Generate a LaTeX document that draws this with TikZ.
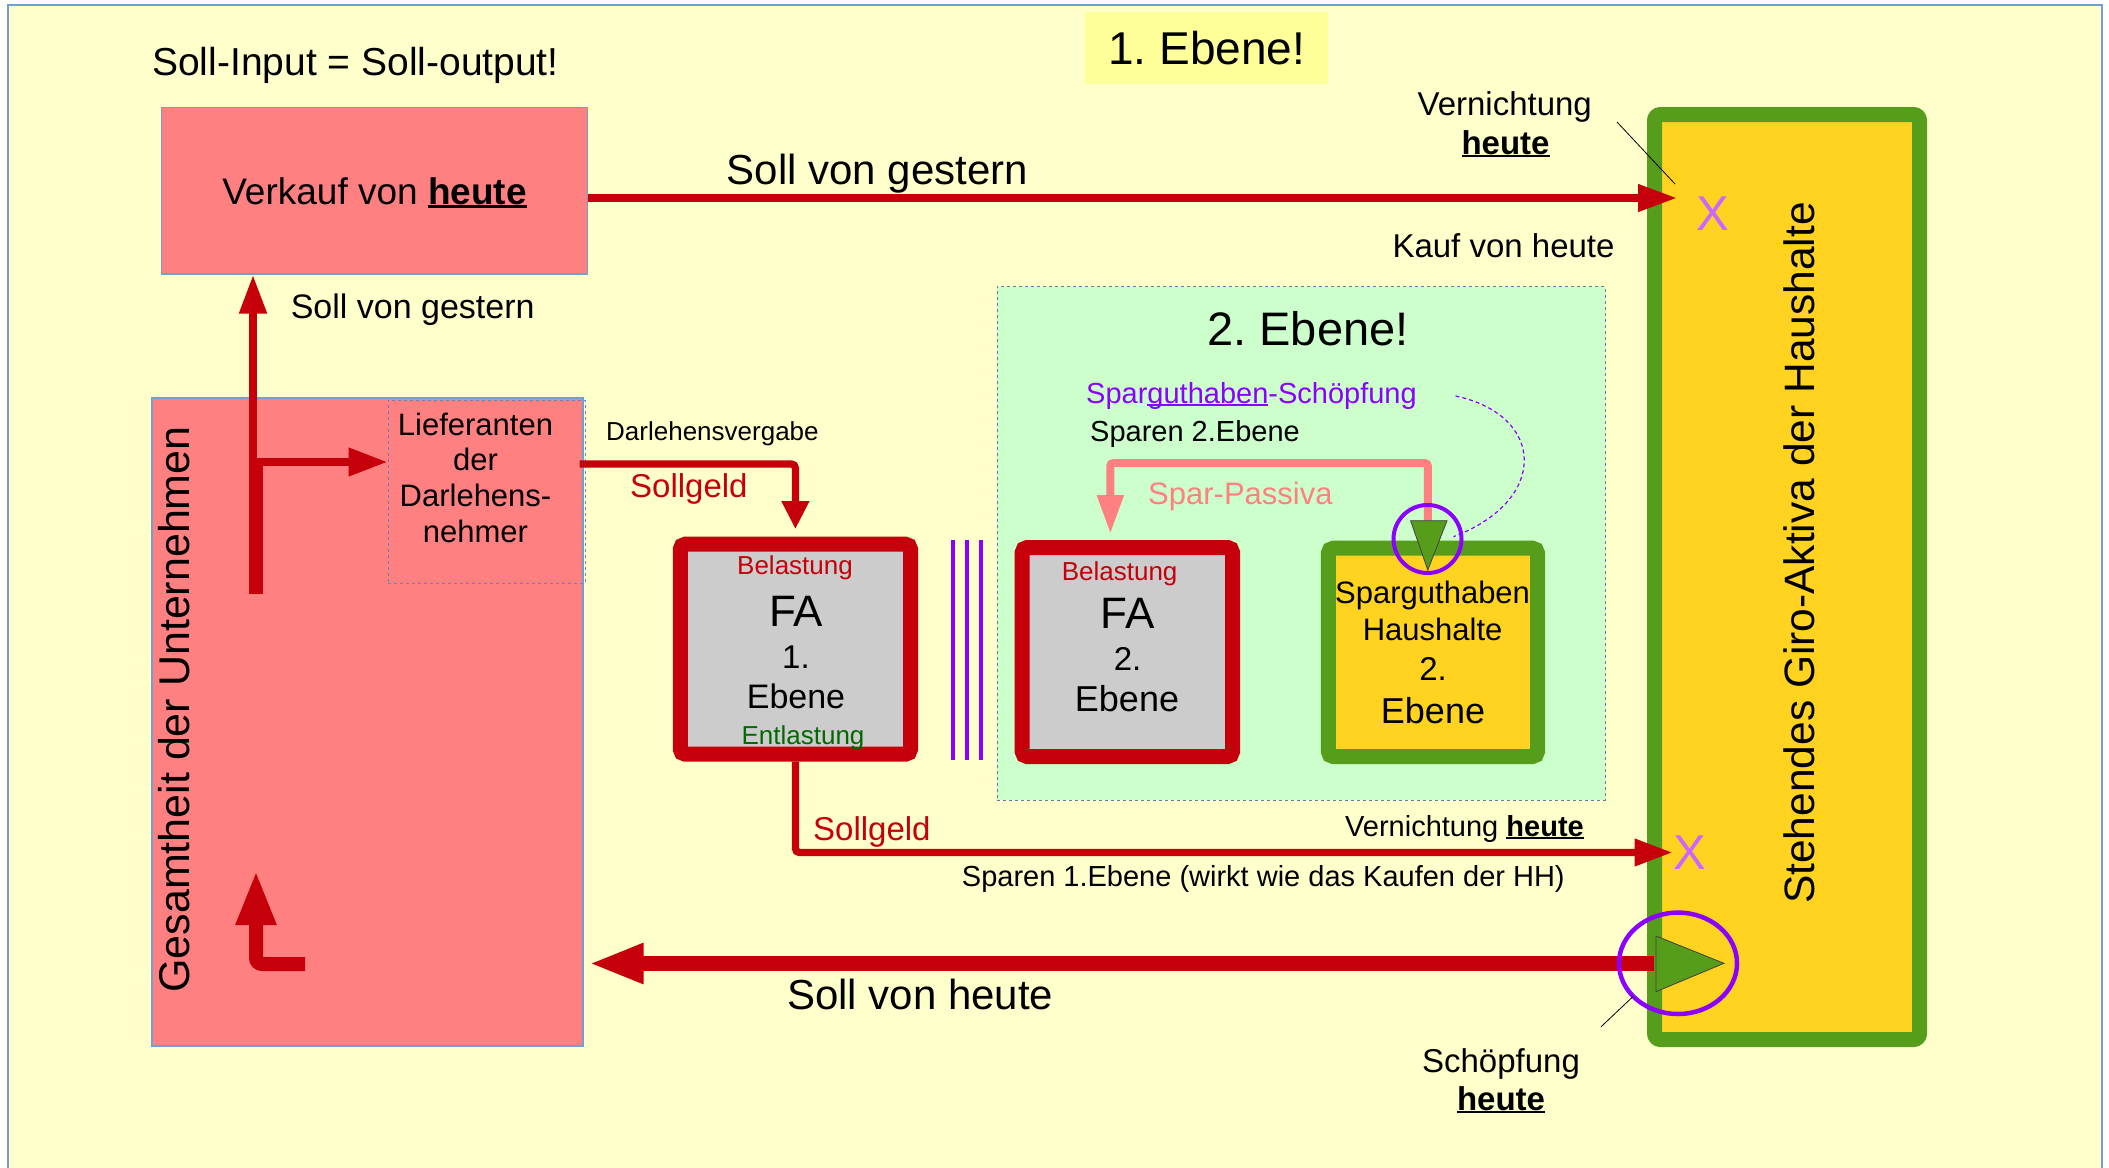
\documentclass[tikz,border=0pt]{standalone}
\usepackage{fontspec}
\setmainfont{Liberation Sans}
\usetikzlibrary{arrows.meta}
\frenchspacing

\definecolor{bgc}{HTML}{FFFFCC}
\definecolor{framec}{HTML}{729FCF}
\definecolor{salmon}{HTML}{FF8080}
\definecolor{dred}{HTML}{C5000B}
\definecolor{grayc}{HTML}{CCCCCC}
\definecolor{grn}{HTML}{579D1C}
\definecolor{gold}{HTML}{FFD320}
\definecolor{mint}{HTML}{CCFFCC}
\definecolor{lemon}{HTML}{FFFF99}
\definecolor{purp}{HTML}{8B00FF}
\definecolor{lilac}{HTML}{CC66FF}
\definecolor{dgreen}{HTML}{006A00}
\definecolor{dashblue}{HTML}{5B86C4}

\newcommand\fs[1]{\fontsize{#1}{#1}\selectfont}
\newsavebox\ulbox
\newcommand\uln[1]{\sbox\ulbox{#1}\rlap{\rule[-0.1em]{\wd\ulbox}{0.065em}}\usebox\ulbox}

\tikzset{
  txt/.style={inner sep=0pt, anchor=base},
  plain/.style={fill=salmon, draw=framec, line width=1.2pt, inner sep=0pt},
  rbox/.style={draw=dred, fill=grayc, line width=15pt, rounded corners=5pt, inner sep=0pt},
  gbox/.style={draw=grn, fill=gold, line width=15pt, rounded corners=5pt, inner sep=0pt},
  flow/.style={draw=dred, line width=7.5pt},
  pinkflow/.style={draw=salmon, line width=8pt},
  tip/.style={-{Triangle[length=39pt,width=26pt]}},
  bigtip/.style={-{Triangle[length=55pt,width=37pt]}},
  ring/.style={draw=purp, line width=4pt},
  marker/.style={fill=grn, draw=black!75, line width=0.8pt},
  pointer/.style={draw=black, line width=0.8pt},
}

\begin{document}
\begin{tikzpicture}[x=1pt,y=-1pt]
\useasboundingbox (0,0) rectangle (2109,1167);

% page frame
\fill[white] (0,0) rectangle (2109,1167);
\draw[framec, line width=2pt, fill=bgc] (8,5) rectangle (2102,1180);

% level labels and main boxes
\node[fill=lemon, minimum width=242.7pt, minimum height=72pt, inner sep=0pt] (lvl1) at (1206.4,48.3) {};
\node[txt, font=\fs{46}] (lvl1t) at (1206.7,64.3) {1. Ebene!};
\node[txt, anchor=base west, font=\fs{39}] (title) at (152,75) {Soll-Input = Soll-output!};

\node[plain, minimum width=426pt, minimum height=166.3pt] (verkauf) at (374.5,190.85) {};
\node[txt, font=\fs{37}] (verkauft) at (374.5,204) {Verkauf von \textbf{\uln{heute}}};

\node[plain, minimum width=431pt, minimum height=648pt] (ges) at (367.5,722) {};
\node[txt, rotate=90, font=\fs{43}] (gest) at (189,709.5) {Gesamtheit der Unternehmen};

\node[draw=dashblue, dashed, line width=1pt, minimum width=197pt, minimum height=183pt, inner sep=0pt] (lief) at (486.5,491.5) {};
\node[txt, font=\fs{31}] (lief1) at (475.5,435) {Lieferanten};
\node[txt, font=\fs{31}] (lief2) at (475.5,470) {der};
\node[txt, font=\fs{31}] (lief3) at (475.5,506.7) {Darlehens-};
\node[txt, font=\fs{31}] (lief4) at (475.5,542) {nehmer};

% second level panel
\node[fill=mint, draw=framec!80!black, dashed, line width=1pt, minimum width=608pt, minimum height=513.3pt, inner sep=0pt] (lvl2) at (1301,543.35) {};
\node[txt, font=\fs{47}] (lvl2t) at (1308,345) {2. Ebene!};
\node[txt, anchor=base west, font=\fs{29}, text=purp] (sgs) at (1086,403) {Spar\uln{guthaben}-Schöpfung};
\node[txt, anchor=base west, font=\fs{29}] (sp2) at (1090,441.7) {Sparen 2.Ebene};

% households
\node[gbox, rounded corners=6pt, minimum width=265pt, minimum height=925pt] (hh) at (1787,577) {};
\node[txt, rotate=90, font=\fs{42.5}] (hht) at (1814,553) {Stehendes Giro-Aktiva der Haushalte};

% FA boxes
\node[rbox, minimum width=230.2pt, minimum height=210pt] (fa1) at (795.4,649.2) {};
\node[txt, font=\fs{26}, text=dred] (fa1a) at (795,574) {Belastung};
\node[txt, font=\fs{44}] (fa1b) at (796,626.7) {FA};
\node[txt, font=\fs{33}] (fa1c) at (796,668) {1.};
\node[txt, font=\fs{34}] (fa1d) at (796,708) {Ebene};
\node[txt, font=\fs{26}, text=dgreen] (fa1e) at (803,744) {Entlastung};

\node[rbox, minimum width=210.3pt, minimum height=209pt] (fa2) at (1127.35,652) {};
\node[txt, font=\fs{26}, text=dred] (fa2a) at (1119.6,580) {Belastung};
\node[txt, font=\fs{44}] (fa2b) at (1127.5,628) {FA};
\node[txt, font=\fs{33}] (fa2c) at (1127.5,670) {2.};
\node[txt, font=\fs{36}] (fa2d) at (1127,711.7) {Ebene};

\node[gbox, minimum width=209.2pt, minimum height=208.3pt] (sph) at (1432.9,652.35) {};
\node[txt, font=\fs{31}] (spha) at (1432.6,603) {Sparguthaben};
\node[txt, font=\fs{31}] (sphb) at (1432.6,640) {Haushalte};
\node[txt, font=\fs{33}] (sphc) at (1433,680) {2.};
\node[txt, font=\fs{36}] (sphd) at (1433,723) {Ebene};

% separator between the two FA boxes
\foreach \xx in {952.7,967.4,980.8}
  \draw[purp, line width=4pt] (\xx,540) -- (\xx,760);

% flows on the company side
\coordinate (branch) at (253,462);
\coordinate (trunktop) at (256,459);
\coordinate (trunkbot) at (256,594);
\draw[flow, line width=13.7pt] (trunktop) -- (trunkbot);
\draw[flow, line width=8pt, tip] (branch) -- (branch |- verkauf.south);
\draw[flow, line width=7.4pt, -{Triangle[length=39pt,width=27pt]}] (branch) -- (lief.west |- branch);
\node[txt, anchor=base west, font=\fs{34}] (sg1) at (290.6,318) {Soll von gestern};

\coordinate (lfoot) at (305,964);
\coordinate (lcorner) at (256,964);
\coordinate (ltip) at (256,870);
\draw[flow, line width=14pt, rounded corners=6pt, bigtip] (lfoot) -- (lcorner) -- (ltip);

% loan flow into FA 1
\draw[flow, line width=7.3pt, rounded corners=4pt, -{Triangle[length=28pt,width=26pt]}]
  ([xshift=-6pt,yshift=27.5pt]lief.east) -| ([yshift=7.5pt]fa1.north);
\node[txt, anchor=base west, font=\fs{26}] (dv) at (606,440) {Darlehensvergabe};
\node[txt, anchor=base west, font=\fs{33}, text=dred] (sgeld1) at (630,497) {Sollgeld};

% savings flow of level 2
\coordinate (tri1top) at (1427.8,520.7);
\draw[pinkflow, rounded corners=3pt, -{Triangle[length=39pt,width=25pt]}]
  (tri1top) -- ++(0,-57.7) -| ([xshift=-17pt,yshift=6pt]fa2.north);
\node[txt, anchor=base west, font=\fs{31}, text=salmon] (spp) at (1148,504) {Spar-Passiva};
\draw[purp, line width=1.2pt, dash pattern=on 4pt off 3pt]
  (1455.5,396) .. controls (1545,415) and (1550,500) .. (1453.5,536.7);
\draw[marker] (1410.6,520.7) -- (1447,520.7) -- (1427.8,570) -- cycle;
\draw[ring] (1427.5,539) ellipse [x radius=34pt, y radius=34pt];

% flows into the households
\coordinate (xtop) at (1677,198);
\draw[flow, tip] ([yshift=-7.15pt]verkauf.east) -- (xtop);
\node[txt, anchor=base west, font=\fs{42}] (sg2) at (726.7,184) {Soll von gestern};
\node[txt, font=\fs{49}, text=lilac] (x1) at (1713,230) {X};
\node[txt, font=\fs{33}] (vn1) at (1504.7,115) {Vernichtung};
\node[txt, font=\fs{33}] (vn1b) at (1505.5,154) {\textbf{\uln{heute}}};
\coordinate (p1a) at (1617,122);
\coordinate (p1b) at (1675,184);
\draw[pointer] (p1a) -- (p1b);
\node[txt, font=\fs{33}] (kauf) at (1503.5,257) {Kauf von heute};

\coordinate (xbot) at (1672.5,852.5);
\draw[flow, line width=7.3pt, rounded corners=4pt, -{Triangle[length=38pt,width=26pt]}] (fa1.south) |- (xbot);
\node[txt, anchor=base west, font=\fs{33}, text=dred] (sgeld2) at (813,840) {Sollgeld};
\node[txt, anchor=base west, font=\fs{29}] (vn2) at (1345,836) {Vernichtung \textbf{\uln{heute}}};
\node[txt, font=\fs{49}, text=lilac] (x2) at (1690,869) {X};
\node[txt, anchor=base west, font=\fs{29}] (sp1) at (961.7,886) {Sparen 1.Ebene (wirkt wie das Kaufen der HH)};

% money creation today
\coordinate (tri2w) at (1653.5,963.5);
\coordinate (sh) at ([xshift=5pt]ges.east);
\draw[flow, line width=14.5pt, bigtip] (tri2w) -- (sh |- tri2w);
\node[txt, anchor=base west, font=\fs{42}] (svh) at (787,1009) {Soll von heute};
\draw[marker] (1656,936) -- (1656,991.7) -- (1724,963.3) -- cycle;
\draw[ring, line width=4.5pt] (1678,963.3) ellipse [x radius=59pt, y radius=50.7pt];
\coordinate (p2a) at (1600.8,1027);
\coordinate (p2b) at (1632.8,996.7);
\draw[pointer] (p2a) -- (p2b);
\node[txt, font=\fs{33}] (sch) at (1501,1072.7) {Schöpfung};
\node[txt, font=\fs{33}] (schb) at (1501,1110) {\textbf{\uln{heute}}};

\end{tikzpicture}
\end{document}
